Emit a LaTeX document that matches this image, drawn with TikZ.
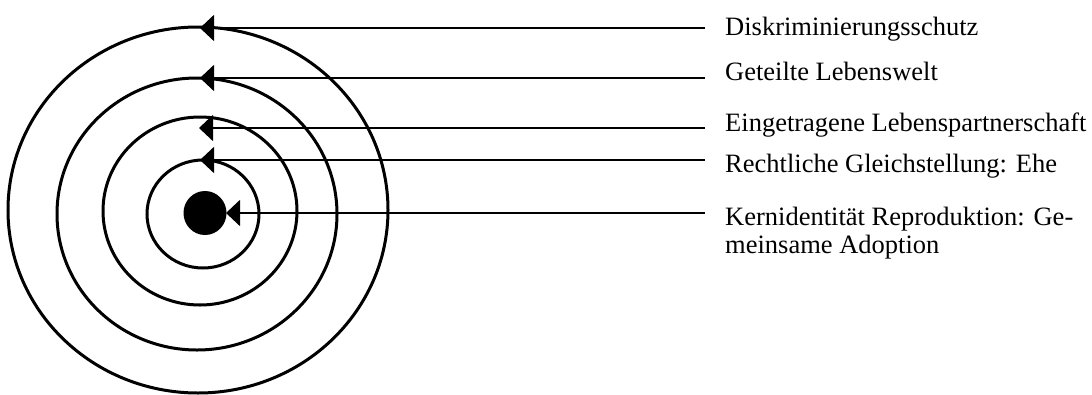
\documentclass[tikz,border=0pt]{standalone}
\usepackage{fontspec}
\setmainfont{Liberation Serif}
\usetikzlibrary{arrows.meta}
\begin{document}
\begin{tikzpicture}[x=1pt,y=-1pt,
  ring/.style={draw=black, line width=3pt},
  conn/.style={draw=black, line width=1.6pt, -{Triangle[length=14pt,width=26pt]}},
  lbl/.style={anchor=base west, inner sep=0pt, font=\fontsize{26.5}{28}\selectfont, align=left}]
\useasboundingbox (0,0) rectangle (1092,394);
% rings
\draw[ring] (198,210) ellipse [x radius=190pt, y radius=183pt];
\draw[ring] (197,214) ellipse [x radius=140pt, y radius=136pt];
\draw[ring] (200,211) ellipse [x radius=97pt, y radius=94pt];
\draw[ring] (203,214) ellipse [x radius=56pt, y radius=54pt];
\fill[black] (205,213) ellipse [x radius=21.5pt, y radius=22pt];
% tips and ends
\coordinate (t1) at (200,28);
\coordinate (t2) at (200,78);
\coordinate (t3) at (199,128);
\coordinate (t4) at (200,160);
\coordinate (t5) at (226,213);
\coordinate (e1) at (705,28);
\coordinate (e2) at (705,78);
\coordinate (e3) at (705,128);
\coordinate (e4) at (705,160);
\coordinate (e5) at (705,213);
% labels
\node[lbl] (l1) at (725,35) {Diskriminierungsschutz};
\node[lbl] (l2) at (725,80) {Geteilte Lebenswelt};
\node[lbl] (l3) at (725,131) {Eingetragene Lebenspartnerschaft};
\node[lbl] (l4) at (725,172) {Rechtliche Gleichstellung: Ehe};
\node[lbl] (l5) at (725,253) {Kernidentität Reproduktion: Ge-\\meinsame Adoption};
% connectors
\draw[conn] (e1) -- (t1);
\draw[conn] (e2) -- (t2);
\draw[conn] (e3) -- (t3);
\draw[conn] (e4) -- (t4);
\draw[conn] (e5) -- (t5);
\end{tikzpicture}
\end{document}
